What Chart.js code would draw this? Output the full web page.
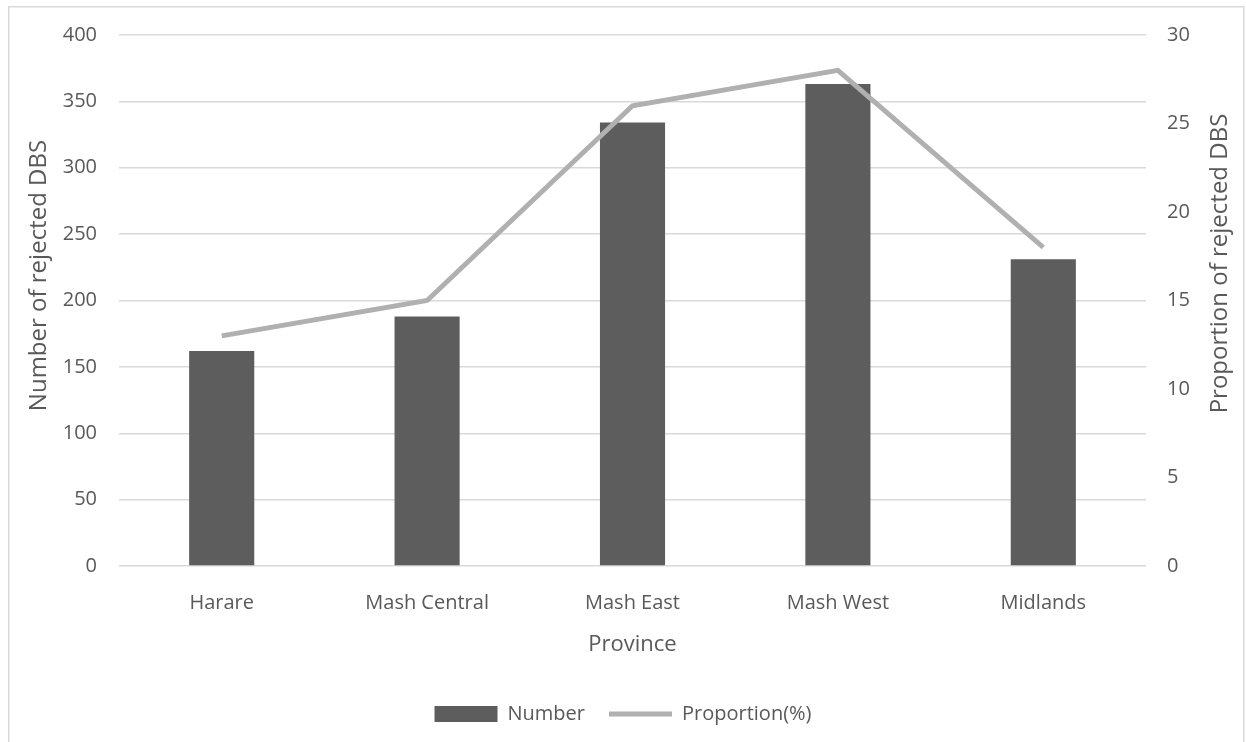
<!DOCTYPE html>
<html>
<head>
<meta charset="utf-8">
<script src="https://cdn.jsdelivr.net/npm/chart.js@4.4.1/dist/chart.umd.min.js"></script>
<style>
  html, body { margin: 0; padding: 0; background: #fff; }
  #wrap { position: relative; width: 1246px; height: 742px; overflow: hidden; }
  canvas { display: block; }
</style>
</head>
<body>
<div id="wrap"><canvas id="chart" width="1246" height="742"></canvas></div>
<script>
// Rejected DBS samples by province
const provinces = ['Harare', 'Mash Central', 'Mash East', 'Mash West', 'Midlands'];
const rejectedCount = [162, 188, 334, 363, 231];
const rejectedPercent = [13, 15, 26, 28, 18];
const countTicks = [0, 50, 100, 150, 200, 250, 300, 350, 400];
const percentTicks = [0, 5, 10, 15, 20, 25, 30];
const countTitle = 'Number of rejected DBS';
const percentTitle = 'Proportion of rejected DBS';

const FONT = "'Open Sans', 'Noto Sans', sans-serif";
const TEXT = '#595959';
const GRID = '#d9d9d9';
const BAR = '#5d5d5d';
const LINE = '#b0b0b0';

// Outer frame around the chart
const framePlugin = {
  id: 'frame',
  beforeDraw(chart) {
    const ctx = chart.ctx;
    ctx.save();
    ctx.fillStyle = '#fff';
    ctx.fillRect(0, 0, chart.width, chart.height);
    ctx.strokeStyle = '#d9d9d9';
    ctx.lineWidth = 1.5;
    ctx.strokeRect(8.75, 6.75, 1235, 800);
    ctx.restore();
  }
};

// Both value-axis titles read bottom-to-top, placed beside their scales
const axisTitlePlugin = {
  id: 'axisTitles',
  afterDraw(chart) {
    const ctx = chart.ctx;
    const area = chart.chartArea;
    const mid = (area.top + area.bottom) / 2;
    const items = [
      { text: countTitle, x: chart.scales.yCount.left + 39, y: mid - 25 },
      { text: percentTitle, x: chart.scales.yPct.left + 74, y: mid - 37 }
    ];
    ctx.save();
    ctx.fillStyle = TEXT;
    ctx.font = '24px ' + FONT;
    ctx.textAlign = 'center';
    ctx.textBaseline = 'middle';
    items.forEach(it => {
      ctx.save();
      ctx.translate(it.x, it.y);
      ctx.rotate(-Math.PI / 2);
      ctx.fillText(it.text, 0, 0);
      ctx.restore();
    });
    ctx.restore();
  }
};

new Chart(document.getElementById('chart'), {
  data: {
    labels: provinces,
    datasets: [
      {
        type: 'line',
        label: 'Proportion(%)',
        data: rejectedPercent,
        yAxisID: 'yPct',
        borderColor: LINE,
        backgroundColor: LINE,
        borderWidth: 5,
        pointRadius: 0,
        pointHoverRadius: 0,
        tension: 0,
        order: 0
      },
      {
        type: 'bar',
        label: 'Number',
        data: rejectedCount,
        yAxisID: 'yCount',
        backgroundColor: BAR,
        borderWidth: 0,
        categoryPercentage: 1,
        barPercentage: 0.317,
        order: 1
      }
    ]
  },
  options: {
    responsive: false,
    animation: false,
    maintainAspectRatio: false,
    layout: { padding: { left: 0, right: 0, top: 35, bottom: 8 } },
    plugins: {
      tooltip: { enabled: false },
      legend: {
        position: 'bottom',
        labels: {
          font: { family: FONT, size: 20 },
          color: TEXT,
          padding: 24,
          boxHeight: 16,
          usePointStyle: true,
          pointStyleWidth: 63,
          generateLabels(chart) {
            const ds = chart.data.datasets;
            return [
              { text: ds[1].label, fillStyle: BAR, strokeStyle: BAR, lineWidth: 0,
                pointStyle: 'rect', datasetIndex: 1, fontColor: TEXT },
              { text: ds[0].label, fillStyle: LINE, strokeStyle: LINE, lineWidth: 5,
                pointStyle: 'line', datasetIndex: 0, fontColor: TEXT }
            ];
          }
        }
      }
    },
    scales: {
      x: {
        offset: true,
        grid: { display: false, drawTicks: false },
        border: { display: false },
        ticks: { font: { family: FONT, size: 20 }, color: TEXT, padding: 25, maxRotation: 0 },
        title: {
          display: true, text: 'Province', color: TEXT,
          font: { family: FONT, size: 22 },
          padding: { top: 0, bottom: 22 }
        },
        afterFit(scale) { scale.height = 114; }
      },
      yCount: {
        position: 'left',
        min: 0, max: 400,
        afterBuildTicks(scale) { scale.ticks = countTicks.map(v => ({ value: v })); },
        grid: { color: GRID, lineWidth: 1.5, drawTicks: false },
        border: { display: false },
        ticks: { font: { family: FONT, size: 20 }, color: TEXT, padding: 22 },
        afterFit(scale) { scale.width = 119; }
      },
      yPct: {
        position: 'right',
        min: 0, max: 30,
        afterBuildTicks(scale) { scale.ticks = percentTicks.map(v => ({ value: v })); },
        grid: { display: false, drawTicks: false },
        border: { display: false },
        ticks: { font: { family: FONT, size: 20 }, color: TEXT, padding: 21 },
        afterFit(scale) { scale.width = 100; }
      }
    }
  },
  plugins: [framePlugin, axisTitlePlugin]
});
</script>
</body>
</html>
